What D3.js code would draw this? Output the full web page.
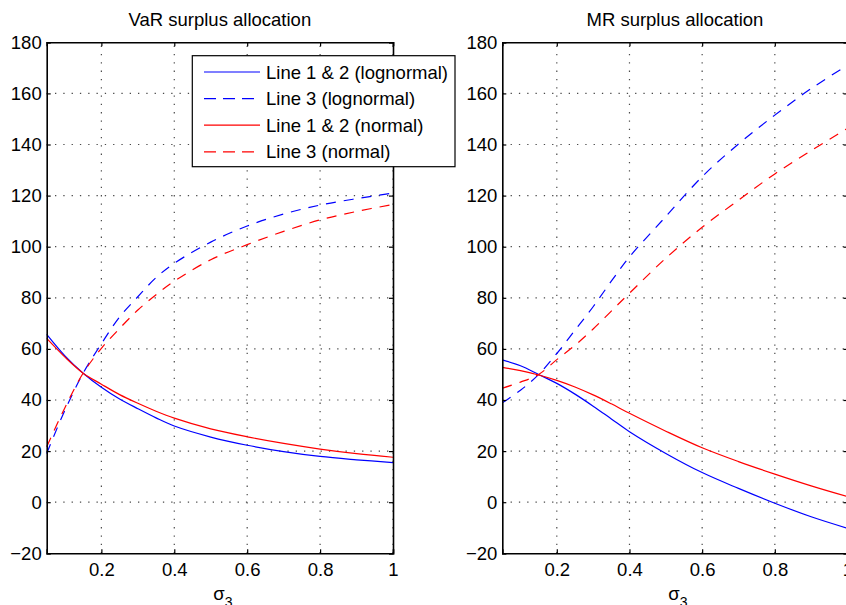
<!DOCTYPE html>
<html>
<head>
<meta charset="utf-8">
<script src="https://cdnjs.cloudflare.com/ajax/libs/d3/7.8.5/d3.min.js"></script>
<style>
body { margin: 0; background: #fff; }
svg text { font-family: "Liberation Sans", Arial, Helvetica, sans-serif; fill: #000; }
</style>
</head>
<body>
<div id="chart"></div>
<script>
//Chart data

var sigma3 = [0.05, 0.1, 0.15, 0.2, 0.25, 0.3, 0.35, 0.4, 0.5, 0.6, 0.7, 0.8, 0.9, 1.0];

var varLogLine12  = [65.7, 57.3, 50.5, 45.0, 40.4, 36.6, 33.0, 29.8, 25.5, 22.3, 19.8, 17.9, 16.6, 15.5];
var varLogLine3   = [19.1, 36.0, 50.5, 62.0, 72.5, 80.4, 87.9, 93.5, 101.8, 108.1, 112.8, 116.3, 118.8, 121.0];
var varNormLine12 = [64.1, 56.8, 50.5, 46.2, 42.1, 38.7, 35.6, 32.9, 28.7, 25.6, 23.0, 20.8, 19.0, 17.6];
var varNormLine3  = [21.7, 37.0, 50.5, 60.2, 68.0, 75.2, 81.2, 86.5, 94.9, 100.8, 106.0, 110.5, 113.8, 116.5];

var mrLogLine12  = [55.7, 53.4, 50.0, 46.5, 42.3, 37.6, 32.6, 27.6, 19.1, 11.6, 5.4, -0.4, -5.7, -10.2];
var mrLogLine3   = [38.9, 43.8, 50.0, 58.2, 67.3, 76.5, 86.5, 96.0, 111.8, 127.4, 140.2, 151.5, 161.9, 171.0];
var mrNormLine12 = [52.8, 51.5, 49.8, 47.7, 45.1, 42.0, 38.5, 34.8, 27.8, 21.3, 15.9, 11.0, 6.4, 2.2];
var mrNormLine3  = [44.6, 47.0, 50.0, 55.8, 61.4, 67.8, 74.8, 81.8, 95.5, 107.6, 118.2, 128.5, 137.6, 146.3];

var xTicks = [0.2, 0.4, 0.6, 0.8, 1];
var yTicks = [-20, 0, 20, 40, 60, 80, 100, 120, 140, 160, 180];

var legendLabels = ["Line 1 & 2 (lognormal)", "Line 3 (lognormal)", "Line 1 & 2 (normal)", "Line 3 (normal)"];
var seriesColors = ["#0000ff", "#0000ff", "#ff0000", "#ff0000"];
var seriesDashed = [false, true, false, true];

var width = 846, height = 605;
var fontSize = 18.5;

var svg = d3.select("#chart").append("svg").attr("width", width).attr("height", height);

//Draws one MATLAB-style subplot with a box, inward ticks and dotted grid
function drawPanel(left, right, title, seriesList, withLegend)
{
    let top = 42.3, bottom = 553.3;

    let x = d3.scaleLinear().domain([0.05, 1]).range([left, right]);
    let y = d3.scaleLinear().domain([-20, 180]).range([bottom, top]);

    let g = svg.append("g");

    //grid
    let grid = g.append("g").attr("stroke", "#4a4a4a").attr("stroke-width", 1.2).attr("stroke-dasharray", "1.3,7");
    xTicks.forEach(function(t)
    {
        grid.append("line").attr("x1", x(t)).attr("x2", x(t)).attr("y1", bottom).attr("y2", top);
    });
    yTicks.forEach(function(t)
    {
        if (t == -20 || t == 180) return;
        grid.append("line").attr("x1", left).attr("x2", right).attr("y1", y(t)).attr("y2", y(t));
    });

    //data lines
    let line = d3.line().x(function(d) { return x(d[0]); }).y(function(d) { return y(d[1]); }).curve(d3.curveCatmullRom.alpha(0.5));

    seriesList.forEach(function(vals, i)
    {
        let pts = sigma3.map(function(s, k) { return [s, vals[k]]; });
        g.append("path").datum(pts).attr("d", line)
            .attr("fill", "none")
            .attr("stroke", seriesColors[i])
            .attr("stroke-width", 1.2)
            .attr("stroke-dasharray", seriesDashed[i] ? "10,8" : null);
    });

    let fmt = d3.format("~g");

    //axes, ticks pointing inward
    let xAxis = g.append("g").attr("transform", "translate(0," + bottom + ")")
        .call(d3.axisBottom(x).tickValues(xTicks).tickFormat(fmt).tickSize(-4).tickPadding(9.5));
    let xAxisTop = g.append("g").attr("transform", "translate(0," + top + ")")
        .call(d3.axisTop(x).tickValues(xTicks).tickFormat("").tickSize(-4));
    let yAxis = g.append("g").attr("transform", "translate(" + left + ",0)")
        .call(d3.axisLeft(y).tickValues(yTicks).tickFormat(fmt).tickSize(-4).tickPadding(5));
    let yAxisRight = g.append("g").attr("transform", "translate(" + right + ",0)")
        .call(d3.axisRight(y).tickValues(yTicks).tickFormat("").tickSize(-4));

    [xAxis, xAxisTop, yAxis, yAxisRight].forEach(function(a)
    {
        a.select(".domain").attr("stroke", "#000").attr("stroke-width", 1.6);
        a.selectAll(".tick line").attr("stroke", "#000").attr("stroke-width", 1.2);
        a.selectAll("text").style("font-size", fontSize + "px").attr("font-family", null);
    });

    //title
    g.append("text").attr("x", (left + right) / 2).attr("y", 26)
        .attr("text-anchor", "middle").style("font-size", fontSize + "px").text(title);

    //x label: sigma with subscript 3
    let xl = g.append("text").attr("x", (left + right) / 2 + 3).attr("y", 600)
        .attr("text-anchor", "middle").style("font-size", fontSize + "px");
    xl.append("tspan").text("σ");
    xl.append("tspan").attr("dy", 7).style("font-size", "14px").text("3");

    if (withLegend)
    {
        let lg = svg.append("g");
        lg.append("rect").attr("x", 192.3).attr("y", 55.7).attr("width", 262.7).attr("height", 111)
            .attr("fill", "#fff").attr("stroke", "#000").attr("stroke-width", 1.2);

        legendLabels.forEach(function(lab, i)
        {
            let cy = 72 + i * 26.6;
            lg.append("line").attr("x1", 204).attr("x2", 260).attr("y1", cy).attr("y2", cy)
                .attr("stroke", seriesColors[i]).attr("stroke-width", 1.2)
                .attr("stroke-dasharray", seriesDashed[i] ? "12,7" : null);
            lg.append("text").attr("x", 266).attr("y", cy + 6.5).style("font-size", fontSize + "px").text(lab);
        });
    }
}

drawPanel(46.7, 393, "VaR surplus allocation", [varLogLine12, varLogLine3, varNormLine12, varNormLine3], true);
drawPanel(502.3, 847.5, "MR surplus allocation", [mrLogLine12, mrLogLine3, mrNormLine12, mrNormLine3], false);
</script>
</body>
</html>
